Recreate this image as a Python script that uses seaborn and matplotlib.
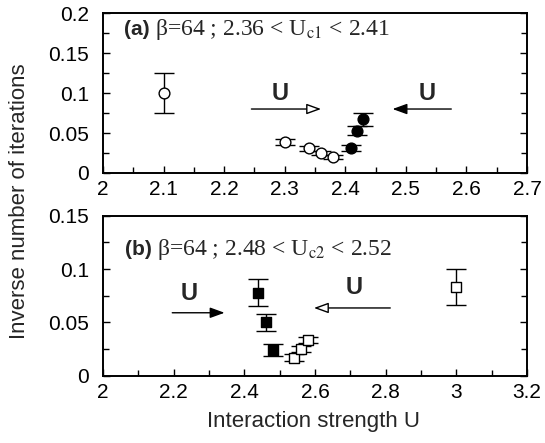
import matplotlib
matplotlib.use("Agg")
import matplotlib.pyplot as plt
import seaborn as sns
import pandas as pd

sns.set_theme(style="ticks")
plt.rcParams['font.family'] = ['Liberation Sans', 'DejaVu Sans']
plt.rcParams['mathtext.fontset'] = 'stix'

# ---------------- data: panel (a) ----------------
a_open_x = [2.10, 2.30, 2.34, 2.36, 2.38]
a_open_y = [0.100, 0.039, 0.031, 0.025, 0.020]
a_open_err = [0.025, 0.004, 0.003, 0.003, 0.003]
a_fill_x = [2.41, 2.42, 2.43]
a_fill_y = [0.031, 0.053, 0.067]
a_fill_err = [0.004, 0.006, 0.008]

# ---------------- data: panel (b) ----------------
b_fill_x = [2.44, 2.46, 2.48]
b_fill_y = [0.078, 0.050, 0.024]
b_fill_err = [0.013, 0.008, 0.006]
b_open_x = [2.54, 2.56, 2.58, 3.00]
b_open_y = [0.017, 0.025, 0.0335, 0.083]
b_open_err = [0.003, 0.003, 0.003, 0.017]

# ticks
a_xticks = [2.0, 2.1, 2.2, 2.3, 2.4, 2.5, 2.6, 2.7]
a_xticklabels = ['2', '2.1', '2.2', '2.3', '2.4', '2.5', '2.6', '2.7']
a_yticks = [0, 0.05, 0.1, 0.15, 0.2]
a_yticklabels = ['0', '0.05', '0.1', '0.15', '0.2']
b_xticks = [2.0, 2.2, 2.4, 2.6, 2.8, 3.0, 3.2]
b_xticklabels = ['2', '2.2', '2.4', '2.6', '2.8', '3', '3.2']
b_yticks = [0, 0.05, 0.1, 0.15]
b_yticklabels = ['0', '0.05', '0.1', '0.15']

fig = plt.figure(figsize=(5.45, 4.43), dpi=100)
axA = fig.add_axes([0.189, 0.6095, 0.778, 0.361])
axB = fig.add_axes([0.189, 0.152, 0.778, 0.361])

def style_axes(ax, xlim, ylim, xt, xtl, yt, ytl, xminor, yminor):
    ax.set_xlim(*xlim)
    ax.set_ylim(*ylim)
    ax.set_xticks(xt)
    ax.set_xticklabels(xtl)
    ax.set_yticks(yt)
    ax.set_yticklabels(ytl)
    ax.set_xticks(xminor, minor=True)
    ax.set_yticks(yminor, minor=True)
    ax.tick_params(which='both', direction='in', top=False, right=True,
                   labelsize=15, colors='black', width=1)
    ax.tick_params(which='major', length=5)
    ax.tick_params(which='minor', length=4)
    ax.tick_params(axis='x', which='major', pad=5)
    ax.tick_params(axis='y', which='major', pad=10)
    for s in ax.spines.values():
        s.set_visible(True)
        s.set_color('black')
        s.set_linewidth(1.4)
    ax.set_xlabel('')
    ax.set_ylabel('')

def draw(ax, x, y, err, marker, face, size, cap):
    ax.errorbar(x, y, yerr=err, fmt='none', ecolor='black', elinewidth=1,
                capsize=cap, capthick=1, zorder=2)
    df = pd.DataFrame({'x': x, 'y': y})
    sns.scatterplot(data=df, x='x', y='y', ax=ax, marker=marker, s=size,
                    facecolor=face, edgecolor='black', linewidth=1, zorder=3)

# panel (a)
draw(axA, a_open_x, a_open_y, a_open_err, 'o', 'white', 60, 7.5)
draw(axA, a_fill_x, a_fill_y, a_fill_err, 'o', 'black', 60, 7.5)
style_axes(axA, (2.0, 2.7), (0, 0.2), a_xticks, a_xticklabels, a_yticks, a_yticklabels,
           [2.05 + 0.1 * i for i in range(7)], [0.025 + 0.05 * i for i in range(4)])

# panel (b)
draw(axB, b_fill_x, b_fill_y, b_fill_err, 's', 'black', 44, 7.5)
draw(axB, b_open_x, b_open_y, b_open_err, 's', 'white', 50, 7.5)
style_axes(axB, (2.0, 3.2), (0, 0.15), b_xticks, b_xticklabels, b_yticks, b_yticklabels,
           [2.1 + 0.2 * i for i in range(6)], [0.025 + 0.05 * i for i in range(3)])

# arrows
def arrow(ax, start, tip, fc):
    ax.annotate('', xy=tip, xytext=start,
                arrowprops=dict(arrowstyle='-|>,head_length=0.55,head_width=0.2',
                                fc=fc, ec='black', lw=1, mutation_scale=16,
                                shrinkA=0, shrinkB=0))

arrow(axA, (2.245, 0.08), (2.36, 0.08), 'white')
arrow(axA, (2.575, 0.08), (2.478, 0.08), 'black')
axA.text(2.292, 0.1, 'U', fontsize=17, fontweight='bold', ha='center', va='center')
axA.text(2.535, 0.1, 'U', fontsize=17, fontweight='bold', ha='center', va='center')

arrow(axB, (2.196, 0.059), (2.344, 0.059), 'black')
arrow(axB, (2.813, 0.0635), (2.597, 0.0635), 'white')
axB.text(2.243, 0.077, 'U', fontsize=17, fontweight='bold', ha='center', va='center')
axB.text(2.71, 0.083, 'U', fontsize=17, fontweight='bold', ha='center', va='center')

# panel titles
tA = axA.text(2.034, 0.179, '(a) ', fontsize=15, fontweight='bold', ha='left', va='center')
axA.annotate('β=64 ; 2.36 < U$_{\\rm c1}$ < 2.41', xy=(1, 0.5), xycoords=tA,
             fontsize=17, family=['Liberation Serif'], ha='left', va='center')
tB = axB.text(2.061, 0.118, '(b) ', fontsize=15, fontweight='bold', ha='left', va='center')
axB.annotate('β=64 ; 2.48 < U$_{\\rm c2}$ < 2.52', xy=(1, 0.5), xycoords=tB,
             fontsize=17, family=['Liberation Serif'], ha='left', va='center')

fig.text(0.035, 0.546, 'Inverse number of iterations', rotation=90, fontsize=16,
         ha='center', va='center')
fig.text(0.576, 0.048, 'Interaction strength U', fontsize=16, ha='center', va='center')

fig.savefig('out.png', dpi=100)
